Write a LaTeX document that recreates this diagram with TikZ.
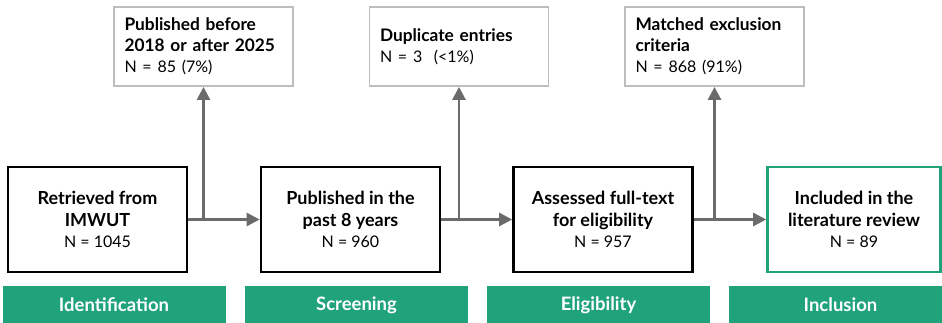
\documentclass[tikz,border=0pt]{standalone}
\usepackage{fontspec}
\setmainfont{Lato}
\usetikzlibrary{arrows.meta,positioning,calc}
\definecolor{prismagreen}{HTML}{20A27A}
\definecolor{exgray}{HTML}{BDBDBD}
\definecolor{arrowgray}{HTML}{6B6B6B}
\newcommand{\ncount}[1]{{\fontsize{16}{21}\selectfont #1}}

\begin{document}
\begin{tikzpicture}[x=1pt,y=-1pt,
 every node/.style={font=\fontsize{18}{21.5}\selectfont,align=center},
 stagebox/.style={draw,line width=2.6pt,minimum width=179pt,minimum height=105pt,inner sep=0pt},
 exbox/.style={draw=exgray,line width=1.8pt,minimum width=179pt,minimum height=79pt,text width=158pt,align=left,inner sep=0pt,font=\fontsize{17.3}{21}\selectfont},
 band/.style={fill=prismagreen,text=white,minimum width=223pt,minimum height=38pt,inner sep=0pt,font=\fontsize{18.5}{20}\selectfont\bfseries},
 flow/.style={arrowgray,line width=2.6pt,-{Triangle[length=13pt,width=13pt]}}]
\useasboundingbox (0,0) rectangle (942,322);
% stages
\node[stagebox] (ret) at (97.5,219.5) {\textbf{Retrieved from}\\\textbf{IMWUT}\\\ncount{N = 1045}};
\node[stagebox] (pub) at (350.5,219.5) {\textbf{Published in the}\\\textbf{past 8 years}\\\ncount{N = 960}};
\node[stagebox] (ass) at (603,219.5) {\textbf{Assessed full-text}\\\textbf{for eligibility}\\\ncount{N = 957}};
\node[stagebox,draw=prismagreen,minimum width=173pt] (inc) at (854,219.5) {\textbf{Included in the}\\\textbf{literature review}\\\ncount{N = 89}};
% exclusions
\node[exbox] (exyear) at (203.5,46.5) {\textbf{Published before}\\\textbf{2018 or after 2025}\\\ncount{N = 85 (7\%)}};
\node[exbox] (exdup) at (459,46.5) {\textbf{Duplicate entries}\\\ncount{N = 3~~(<1\%)}};
\node[exbox] (excrit) at (714.5,46.5) {\textbf{Matched exclusion}\\\textbf{criteria}\\\ncount{N = 868 (91\%)}};
% phases
\node[band] (idf) at (114,305) {Identification};
\node[band] (scr) at (356.5,305) {Screening};
\node[band] (eli) at (598.5,305) {Eligibility};
\node[band] (incl) at (840.5,305) {Inclusion};
% arrows
\coordinate (j1) at (exyear |- ret.east);
\coordinate (j2) at (exdup |- pub.east);
\coordinate (j3) at (excrit |- ass.east);
\draw[flow] (ret.east) -- (pub.west);
\draw[flow] (pub.east) -- (ass.west);
\draw[flow] (ass.east) -- (inc.west);
\draw[flow] (j1) -- (exyear.south);
\draw[flow] (j2) -- (exdup.south);
\draw[flow] (j3) -- (excrit.south);
\end{tikzpicture}
\end{document}
